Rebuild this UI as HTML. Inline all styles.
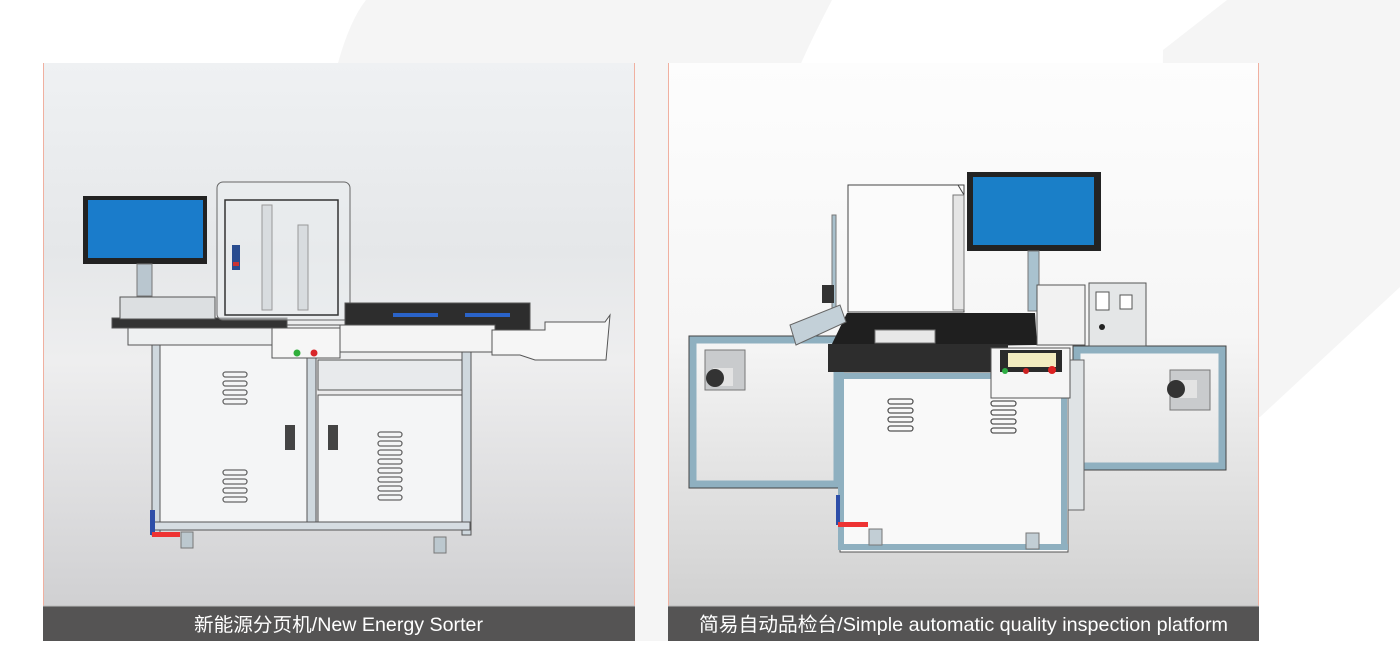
<!DOCTYPE html>
<html><head><meta charset="utf-8"><style>
html,body{margin:0;padding:0;background:#fff;}
body{width:1400px;height:647px;position:relative;overflow:hidden;font-family:"Liberation Sans","Noto Sans CJK SC",sans-serif;}
svg{position:absolute;left:0;top:0;}
</style></head><body>
<svg width="1400" height="647" viewBox="0 0 1400 647" xmlns="http://www.w3.org/2000/svg">
<defs>
<linearGradient id="gl" x1="0" y1="0" x2="0" y2="1">
<stop offset="0" stop-color="#eff1f3"/><stop offset="0.35" stop-color="#e5e7e9"/><stop offset="0.55" stop-color="#eeeeef"/><stop offset="1" stop-color="#d0d0d2"/>
</linearGradient>
<linearGradient id="gr" x1="0" y1="0" x2="0" y2="1">
<stop offset="0" stop-color="#fdfdfd"/><stop offset="0.5" stop-color="#f6f6f6"/><stop offset="1" stop-color="#d1d1d1"/>
</linearGradient>
</defs>
<!-- background shapes -->
<path d="M366,0 L832,0 Q795,70 770,140 L770,641 L330,641 L338,63 Q350,20 366,0Z" fill="#f5f5f5"/>
<path d="M1227,0 L1400,0 L1400,287 L1260,417 L1160,417 L1163,50Z" fill="#f5f5f5"/>

<!-- LEFT PANEL -->
<rect x="43" y="63" width="592" height="543" fill="url(#gl)"/>
<line x1="43.5" y1="63" x2="43.5" y2="641" stroke="#f0b0a0"/>
<line x1="634.5" y1="63" x2="634.5" y2="641" stroke="#f0b0a0"/>
<rect x="43" y="606" width="592" height="35" fill="#555454"/>
<line x1="43" y1="606" x2="635" y2="606" stroke="#bbb"/>
<text x="194" y="631" fill="#fff" font-size="19" textLength="289" lengthAdjust="spacingAndGlyphs" font-family="Liberation Sans, Noto Sans CJK SC, sans-serif">新能源分页机/New Energy Sorter</text>

<!-- left machine -->
<g stroke="#555" stroke-width="1">
<rect x="160" y="345" width="150" height="180" fill="#f4f5f6"/>
<rect x="318" y="395" width="145" height="130" fill="#f4f5f6"/>
<rect x="318" y="360" width="145" height="30" fill="#e8eaec"/>
<rect x="152" y="340" width="8" height="195" fill="#cfd8de"/>
<rect x="307" y="350" width="9" height="180" fill="#cfd8de"/>
<rect x="462" y="350" width="9" height="185" fill="#cfd8de"/>
<rect x="152" y="522" width="318" height="8" fill="#d6dde2"/>
<rect x="128" y="325" width="360" height="20" fill="#eef0f1"/>
<rect x="112" y="318" width="175" height="10" fill="#333"/>
<rect x="120" y="297" width="95" height="22" fill="#dcdfe1"/>
<rect x="217" y="182" width="133" height="138" fill="#e9edf0" fill-opacity="0.5" stroke="#666" rx="6"/>
<rect x="225" y="200" width="113" height="115" fill="none" stroke="#333" stroke-width="1.5"/>
<rect x="262" y="205" width="10" height="105" fill="#d8dcdf" stroke="#999"/>
<rect x="298" y="225" width="10" height="85" fill="#d8dcdf" stroke="#999"/>
<rect x="232" y="245" width="8" height="25" fill="#2a4d90" stroke="none"/>
<rect x="233" y="262" width="6" height="4" fill="#c33" stroke="none"/>
<rect x="345" y="303" width="185" height="27" fill="#2d2d2d"/>
<rect x="393" y="313" width="45" height="4" fill="#2a63c8" stroke="none"/>
<rect x="465" y="313" width="45" height="4" fill="#2a63c8" stroke="none"/>
<rect x="340" y="325" width="155" height="27" fill="#f4f4f4"/>
<path d="M492,330 L545,330 L545,322 L605,322 L610,315 L606,360 L535,360 L520,355 L492,355Z" fill="#f6f6f6"/>
<rect x="272" y="328" width="68" height="30" fill="#f6f6f6"/>
</g>
<circle cx="297" cy="353" r="3.5" fill="#2fae3a"/>
<circle cx="314" cy="353" r="3.5" fill="#d8262a"/>
<rect x="83" y="196" width="124" height="68" fill="#222"/>
<rect x="88" y="200" width="115" height="58" fill="#1a7ccb"/>
<rect x="137" y="264" width="15" height="32" fill="#b9c6cf" stroke="#777"/>
<g fill="none" stroke="#666" stroke-width="1.3">
<rect x="223" y="372" width="24" height="5" rx="2.5"/><rect x="223" y="381" width="24" height="5" rx="2.5"/><rect x="223" y="390" width="24" height="5" rx="2.5"/><rect x="223" y="399" width="24" height="5" rx="2.5"/>
<rect x="223" y="470" width="24" height="5" rx="2.5"/><rect x="223" y="479" width="24" height="5" rx="2.5"/><rect x="223" y="488" width="24" height="5" rx="2.5"/><rect x="223" y="497" width="24" height="5" rx="2.5"/>
<rect x="378" y="432" width="24" height="5" rx="2.5"/><rect x="378" y="441" width="24" height="5" rx="2.5"/><rect x="378" y="450" width="24" height="5" rx="2.5"/><rect x="378" y="459" width="24" height="5" rx="2.5"/><rect x="378" y="468" width="24" height="5" rx="2.5"/><rect x="378" y="477" width="24" height="5" rx="2.5"/><rect x="378" y="486" width="24" height="5" rx="2.5"/><rect x="378" y="495" width="24" height="5" rx="2.5"/>
</g>
<rect x="285" y="425" width="10" height="25" fill="#444"/>
<rect x="328" y="425" width="10" height="25" fill="#444"/>
<rect x="181" y="532" width="12" height="16" fill="#bcc8cf" stroke="#777"/>
<rect x="434" y="537" width="12" height="16" fill="#bcc8cf" stroke="#777"/>
<rect x="150" y="510" width="5" height="25" fill="#2d4ea8"/>
<rect x="152" y="532" width="28" height="5" fill="#e33"/>

<!-- RIGHT PANEL -->
<rect x="668" y="63" width="591" height="543" fill="url(#gr)"/>
<line x1="668.5" y1="63" x2="668.5" y2="641" stroke="#f0b0a0"/>
<line x1="1258.5" y1="63" x2="1258.5" y2="641" stroke="#f0b0a0"/>
<rect x="668" y="606" width="591" height="35" fill="#555454"/>
<line x1="668" y1="606" x2="1259" y2="606" stroke="#bbb"/>
<text x="699" y="631" fill="#fff" font-size="19.5" textLength="529" lengthAdjust="spacingAndGlyphs" font-family="Liberation Sans, Noto Sans CJK SC, sans-serif">简易自动品检台/Simple automatic quality inspection platform</text>

<g fill="none" stroke="#8fb0c0" stroke-width="7">
<rect x="693" y="340" width="144" height="144"/>
<rect x="1077" y="350" width="145" height="116"/>
</g>
<g fill="none" stroke="#444" stroke-width="1">
<rect x="689" y="336" width="152" height="152"/>
<rect x="1073" y="346" width="153" height="124"/>
</g>
<rect x="705" y="350" width="40" height="40" fill="#c9cbcd" stroke="#777"/>
<rect x="713" y="368" width="20" height="18" fill="#e3e3e3"/>
<circle cx="715" cy="378" r="9" fill="#333"/>
<rect x="1170" y="370" width="40" height="40" fill="#c9cbcd" stroke="#777"/>
<rect x="1175" y="380" width="22" height="18" fill="#e3e3e3"/>
<circle cx="1176" cy="389" r="9" fill="#333"/>
<rect x="840" y="372" width="228" height="180" fill="#f9f9f9" stroke="#555"/>
<g fill="none" stroke="#8fb0c0" stroke-width="6">
<line x1="841" y1="372" x2="841" y2="550"/><line x1="1064" y1="372" x2="1064" y2="550"/><line x1="840" y1="547" x2="1068" y2="547"/><line x1="840" y1="376" x2="1068" y2="376"/>
</g>
<rect x="1068" y="360" width="16" height="150" fill="#dfe3e5" stroke="#666"/>
<g fill="none" stroke="#555" stroke-width="1.3">
<rect x="888" y="399" width="25" height="5" rx="2.5"/><rect x="888" y="408" width="25" height="5" rx="2.5"/><rect x="888" y="417" width="25" height="5" rx="2.5"/><rect x="888" y="426" width="25" height="5" rx="2.5"/>
<rect x="991" y="401" width="25" height="5" rx="2.5"/><rect x="991" y="410" width="25" height="5" rx="2.5"/><rect x="991" y="419" width="25" height="5" rx="2.5"/><rect x="991" y="428" width="25" height="5" rx="2.5"/>
</g>
<path d="M847,313 L1035,313 L1037,345 L830,348Z" fill="#1f1f1f"/>
<rect x="828" y="344" width="180" height="28" fill="#2d2d2d"/>
<rect x="875" y="330" width="60" height="13" fill="#e8e8e8" stroke="#777"/>
<rect x="848" y="185" width="116" height="127" fill="#fbfbfb" stroke="#444"/>
<path d="M850,185 L958,185 L964,195 L964,312" fill="none" stroke="#444"/>
<rect x="953" y="195" width="11" height="115" fill="#e5e5e5" stroke="#777"/>
<rect x="832" y="215" width="4" height="105" fill="#a8c0cc" stroke="#777"/>
<rect x="822" y="285" width="12" height="18" fill="#333"/>
<path d="M790,325 L840,305 L846,322 L796,345Z" fill="#c3d0d8" stroke="#666"/>
<rect x="967" y="172" width="134" height="79" fill="#232323"/>
<rect x="973" y="177" width="121" height="68" fill="#1a7fc8"/>
<rect x="1028" y="251" width="11" height="60" fill="#a9c2cf" stroke="#777"/>
<rect x="1037" y="285" width="48" height="60" fill="#f2f2f2" stroke="#555"/>
<rect x="991" y="348" width="79" height="50" fill="#f6f6f6" stroke="#555"/>
<rect x="1000" y="350" width="62" height="22" fill="#2b2b2b"/>
<rect x="1008" y="353" width="48" height="14" fill="#f3ecc0"/>
<circle cx="1005" cy="371" r="3" fill="#2eae44"/><circle cx="1026" cy="371" r="3" fill="#c22"/><circle cx="1052" cy="370" r="4" fill="#d22"/>
<rect x="1089" y="283" width="57" height="63" fill="#e4e6e7" stroke="#555"/>
<rect x="1096" y="292" width="13" height="18" fill="#fff" stroke="#555"/>
<rect x="1120" y="295" width="12" height="14" fill="#fff" stroke="#555"/>
<circle cx="1102" cy="327" r="3" fill="#222"/>
<rect x="869" y="529" width="13" height="16" fill="#c2ced5" stroke="#777"/>
<rect x="1026" y="533" width="13" height="16" fill="#c2ced5" stroke="#777"/>
<rect x="836" y="495" width="4" height="30" fill="#2d4ea8"/>
<rect x="838" y="522" width="30" height="5" fill="#e33"/>
</svg>
</body></html>
